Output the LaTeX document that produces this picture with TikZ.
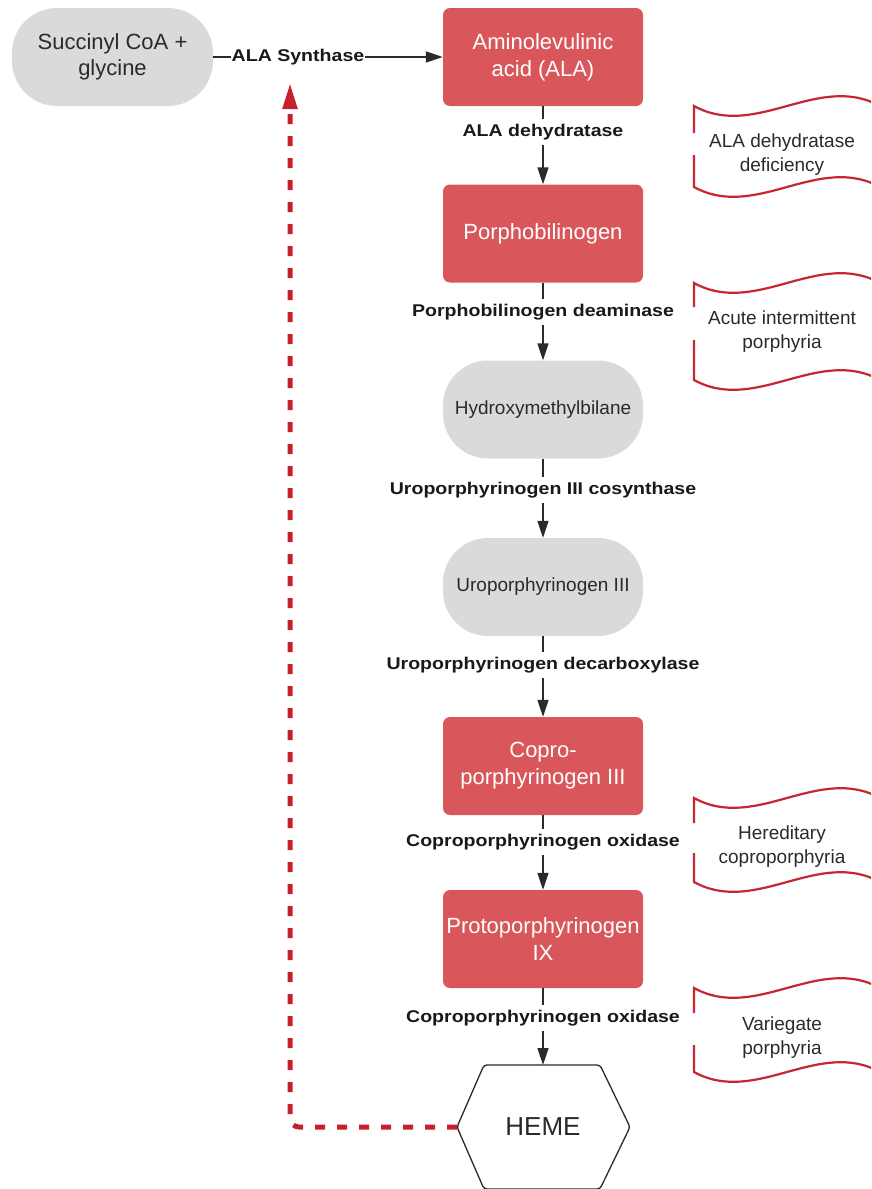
\documentclass[tikz,border=0pt]{standalone}
\usepackage{fontspec}
\setmainfont{Liberation Sans}
\newfontfamily\lblfont[FakeStretch=1.15]{Liberation Sans}
\usetikzlibrary{arrows.meta}
\definecolor{redfill}{HTML}{D9575B}
\definecolor{greyfill}{HTML}{DADADA}
\definecolor{tapered}{HTML}{C62630}
\definecolor{dashred}{HTML}{C8202A}
\definecolor{ink}{HTML}{2A2A2A}
\newcommand{\tapeshape}[4]{%
  \draw[tapeline] (694,#3) -- (694,#1) .. controls (756,{#1+34}) and (818,{#1-34}) .. (880,#1);
  \draw[tapeline] (694,#4) -- (694,#2) .. controls (756,{#2+34}) and (818,{#2-34}) .. (880,#2);
}
\begin{document}
\begin{tikzpicture}[x=1pt,y=-1pt,
  redn/.style={rectangle, rounded corners=7pt, fill=redfill, text=white, minimum width=200pt, minimum height=98pt, align=center, inner sep=0pt, font=\fontsize{22}{27}\selectfont},
  pill/.style={rectangle, rounded corners=45pt, fill=greyfill, text=ink, minimum width=200pt, minimum height=98pt, align=center, inner sep=0pt, font=\fontsize{19}{24}\selectfont},
  enz/.style={font=\lblfont\bfseries\fontsize{17}{20}\selectfont, text=black!90, inner xsep=2pt, inner ysep=5pt, fill=white},
  conn/.style={draw=ink, line width=1.5pt},
  arr/.style={conn, -{Triangle[length=17pt,width=11pt]}},
  tapeline/.style={draw=tapered, line width=2.2pt},
  tapetext/.style={align=center, font=\fontsize{19}{24}\selectfont, text=ink},
  dashline/.style={draw=dashred, line width=5pt, dash pattern=on 10pt off 12pt, rounded corners=9pt, -{Triangle[length=26pt,width=14pt]}},
  hexline/.style={draw=ink, line width=1.3pt, fill=white, rounded corners=3pt}
]
\useasboundingbox (0,0) rectangle (871,1189);
\clip (0,0) rectangle (871,1189);

% main nodes
\node[pill, minimum width=201pt, rounded corners=45pt, font=\fontsize{22}{26}\selectfont] (succ) at (112.5,57) {Succinyl CoA +\\glycine};
\node[redn] (ala) at (543,57) {Aminolevulinic\\acid (ALA)};
\node[redn] (pbg) at (543,233.5) {Porphobilinogen};
\node[pill] (hmb) at (543,409.5) {Hydroxymethylbilane};
\node[pill] (uro) at (543,587) {Uroporphyrinogen III};
\node[redn] (copro) at (543,766) {Copro-\\porphyrinogen III};
\node[redn] (proto) at (543,939) {Protoporphyrinogen\\IX};

% heme hexagon
\coordinate (hW) at (457,1127);
\coordinate (hNW) at (484,1065);
\coordinate (hN) at (543,1065);
\coordinate (hNE) at (600,1065);
\coordinate (hE) at (630,1127);
\coordinate (hSE) at (600,1189);
\coordinate (hSW) at (484,1189);
\draw[hexline] (hW) -- (hNW) -- (hNE) -- (hE) -- (hSE) -- (hSW) -- cycle;
\node[font=\fontsize{26}{30}\selectfont, text=ink] (heme) at (543,1127) {HEME};

% enzyme labels
\node[enz, inner xsep=1pt] (syn) at (298,57) {ALA Synthase};
\node[enz] (e1) at (543,132) {ALA dehydratase};
\node[enz] (e2) at (543,312) {Porphobilinogen deaminase};
\node[enz] (e3) at (543,490) {Uroporphyrinogen III cosynthase};
\node[enz] (e4) at (543,665) {Uroporphyrinogen decarboxylase};
\node[enz] (e5) at (543,842) {Coproporphyrinogen oxidase};
\node[enz] (e6) at (543,1018) {Coproporphyrinogen oxidase};

% connectors
\draw[conn] (succ.east) -- (syn);
\draw[arr] (syn) -- (ala.west);
\draw[conn] (ala) -- (e1);   \draw[arr] (e1) -- (pbg);
\draw[conn] (pbg) -- (e2);   \draw[arr] (e2) -- (hmb);
\draw[conn] (hmb) -- (e3);   \draw[arr] (e3) -- (uro);
\draw[conn] (uro) -- (e4);   \draw[arr] (e4) -- (copro);
\draw[conn] (copro) -- (e5); \draw[arr] (e5) -- (proto);
\draw[conn] (proto) -- (e6); \draw[arr] (e6) -- (hN);

% feedback
\coordinate (fbtip) at (290,83);
\draw[dashline] (hW) -| (fbtip);

% disease tapes
\tapeshape{106}{187}{133}{155}
\node[tapetext] (d1) at (782,155) {ALA dehydratase\\deficiency};
\tapeshape{283}{380}{307}{340}
\node[tapetext] (d2) at (782,332) {Acute intermittent\\porphyria};
\tapeshape{798}{882}{823}{853}
\node[tapetext] (d3) at (782,847) {Hereditary\\coproporphyria};
\tapeshape{988}{1072}{1013}{1045}
\node[tapetext] (d4) at (782,1038) {Variegate\\porphyria};
\end{tikzpicture}
\end{document}
